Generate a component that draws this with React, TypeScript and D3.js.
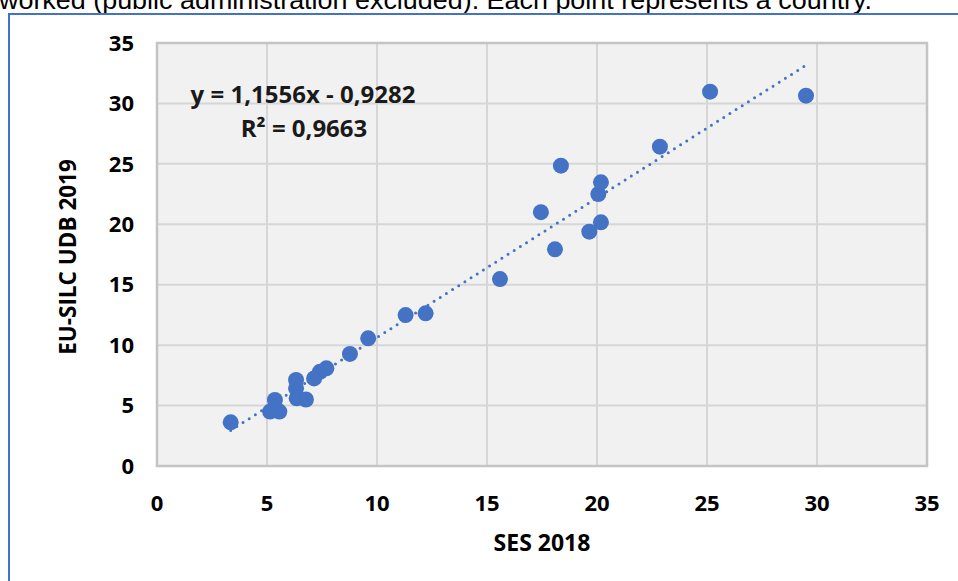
import React from "react";
import * as d3 from "d3";

const sesX = [3.35, 5.14, 5.36, 5.56, 6.32, 6.32, 6.35, 6.77, 7.14, 7.41, 7.7, 8.77, 9.6, 11.3, 12.21, 15.59, 17.45, 18.09, 18.36, 19.65, 20.06, 20.18, 20.18, 22.86, 25.14, 29.5];
const silcY = [3.61, 4.5, 5.46, 4.5, 7.12, 6.43, 5.6, 5.5, 7.25, 7.8, 8.08, 9.27, 10.56, 12.49, 12.63, 15.47, 21.0, 17.93, 24.85, 19.39, 22.5, 23.47, 20.16, 26.42, 30.97, 30.64];
const xTicks = [0, 5, 10, 15, 20, 25, 30, 35];
const yTicks = [0, 5, 10, 15, 20, 25, 30, 35];
const slope = 1.1556;
const intercept = -0.9282;
const eqLine1 = "y = 1,1556x - 0,9282";
const eqLine2 = "R² = 0,9663";
const xTitle = "SES 2018";
const yTitle = "EU-SILC UDB 2019";
const caption = "worked (public administration excluded). Each point represents a country.";

const W = 958;
const H = 581;
const L = 157, R = 927, T = 43, B = 466;
const BLUE = "#4472c4";
const FONT = "'Open Sans', sans-serif";

export default function App() {
  const x = d3.scaleLinear().domain([0, 35]).range([L, R]);
  const y = d3.scaleLinear().domain([0, 35]).range([B, T]);
  const xMin = d3.min(sesX) as number;
  const xMax = d3.max(sesX) as number;
  const trend = d3.line<number>().x((v) => x(v)).y((v) => y(slope * v + intercept));
  const pts = sesX.map((v, i) => ({ x: v, y: silcY[i] }));

  return (
    <svg width={W} height={H} style={{ position: "absolute", left: 0, top: 0, background: "#fff" }}>
      <text x={-1} y={9} fontFamily="'Liberation Sans', Arial, sans-serif" fontSize={25} textLength={873} lengthAdjust="spacingAndGlyphs" fill="#000">{caption}</text>
      <rect x={9} y={14} width={W + 20} height={H + 20} fill="#fff" stroke={BLUE} strokeWidth={2} />
      <rect x={L} y={T} width={R - L} height={B - T} fill="#f1f1f1" />
      {xTicks.map((t) => (
        <line key={"gx" + t} x1={x(t)} x2={x(t)} y1={T} y2={B} stroke="#d6d6d6" strokeWidth={2} />
      ))}
      {yTicks.map((t) => (
        <line key={"gy" + t} x1={L} x2={R} y1={y(t)} y2={y(t)} stroke="#d6d6d6" strokeWidth={2} />
      ))}
      <rect x={L} y={T} width={R - L} height={B - T} fill="none" stroke="#c4c4c4" strokeWidth={2.5} />
      {xTicks.map((t) => (
        <text key={"tx" + t} x={x(t)} y={503} dy="0.35em" textAnchor="middle" fontFamily={FONT} fontWeight={700} fontSize={22} fill="#000">{t}</text>
      ))}
      {yTicks.map((t) => (
        <text key={"ty" + t} x={134} y={y(t)} dy="0.35em" textAnchor="end" fontFamily={FONT} fontWeight={700} fontSize={22} fill="#000">{t}</text>
      ))}
      <text x={(L + R) / 2} y={543} dy="0.35em" textAnchor="middle" fontFamily={FONT} fontWeight={700} fontSize={23} fill="#000">{xTitle}</text>
      <text transform={`translate(68,257) rotate(-90)`} dy="0.35em" textAnchor="middle" fontFamily={FONT} fontWeight={700} fontSize={22.5} fill="#000">{yTitle}</text>
      <path d={trend([xMin, xMax]) || ""} fill="none" stroke={BLUE} strokeWidth={3} strokeDasharray="0 7.3" strokeLinecap="round" />
      {pts.map((p, i) => (
        <circle key={"p" + i} cx={x(p.x)} cy={y(p.y)} r={8} fill={BLUE} />
      ))}
      <text x={303} y={95} dy="0.35em" textAnchor="middle" fontFamily={FONT} fontWeight={700} fontSize={24} fill="#1a1a1a">{eqLine1}</text>
      <text x={304} y={129} dy="0.35em" textAnchor="middle" fontFamily={FONT} fontWeight={700} fontSize={24} fill="#1a1a1a">{eqLine2}</text>
    </svg>
  );
}
